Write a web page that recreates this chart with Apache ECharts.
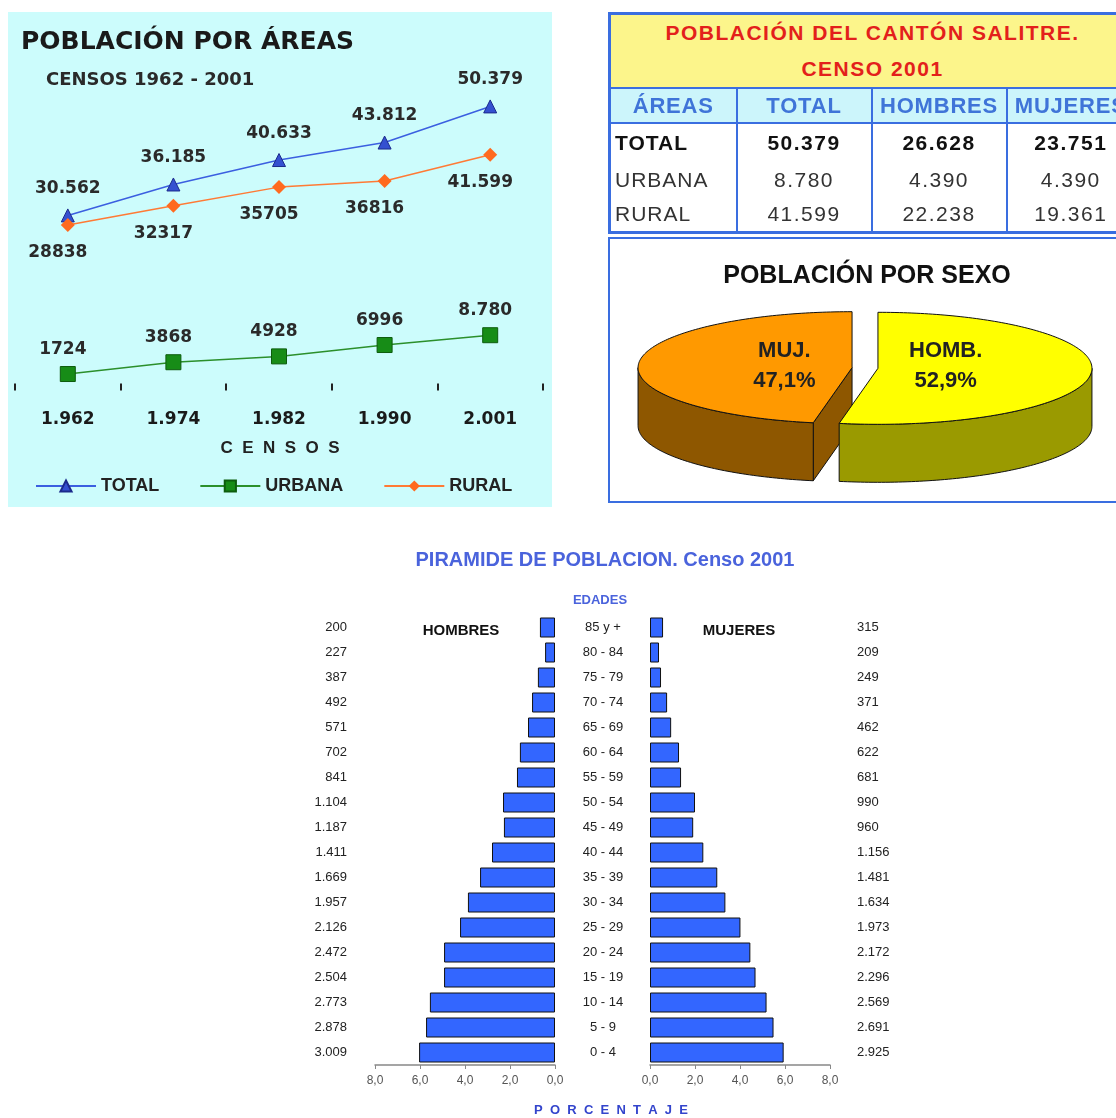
<!DOCTYPE html>
<html>
<head>
<meta charset="utf-8">
<script src="https://cdn.jsdelivr.net/npm/echarts@6.0.0/dist/echarts.min.js"></script>
<style>
html, body { margin: 0; padding: 0; width: 1116px; height: 1118px; overflow: hidden; background: #fff; }
#chart { position: absolute; left: 0; top: 0; width: 1116px; height: 1118px; }
#tabla {
  position: absolute; left: 608px; top: 12px;
  border-collapse: collapse; table-layout: fixed; width: 526px;
  border: 3px solid #3a6ee0;
  font-family: Arial, "Liberation Sans", sans-serif;
}
#tabla td { border-left: 2px solid #3a6ee0; border-right: 2px solid #3a6ee0; padding: 0; text-align: center; white-space: nowrap; overflow: hidden; }
#tabla .tt td { background: #fcf58b; color: #e3201b; font-weight: bold; font-size: 21px; letter-spacing: 1.5px; height: 70px; line-height: 36px; }
#tabla .hd td { background: #ccf5fb; color: #3f74d8; font-weight: bold; font-size: 22px; letter-spacing: 0.8px; height: 33px; border-top: 2px solid #3a6ee0; border-bottom: 2px solid #3a6ee0; }
#tabla .bd td { color: #333; font-size: 21px; letter-spacing: 1.5px; }
#tabla .bd td:first-child { text-align: left; padding-left: 4px; letter-spacing: 1px; }
#tabla .bd.b td { color: #111; font-weight: bold; }
</style>
</head>
<body>
<div id="chart"></div>
<table id="tabla"></table>
<script>
// población por áreas (censos)
const censusYears = ['1.962', '1.974', '1.982', '1.990', '2.001']
const totalValues = [30562, 36185, 40633, 43812, 50379]
const urbanValues = [1724, 3868, 4928, 6996, 8780]
const ruralValues = [28838, 32317, 35705, 36816, 41599]
const totalLabels = ['30.562', '36.185', '40.633', '43.812', '50.379']
const urbanLabels = ['1724', '3868', '4928', '6996', '8.780']
const ruralLabels = ['28838', '32317', '35705', '36816', '41.599']

// tabla censo 2001
const tableTitle = ['POBLACIÓN DEL CANTÓN SALITRE.', 'CENSO 2001']
const tableHeader = ['ÁREAS', 'TOTAL', 'HOMBRES', 'MUJERES']
const tableRows = [
  ['TOTAL', '50.379', '26.628', '23.751'],
  ['URBANA', '8.780', '4.390', '4.390'],
  ['RURAL', '41.599', '22.238', '19.361'],
]

// población por sexo
const pieNames = ['HOMB.', 'MUJ.']
const pieValues = [52.9, 47.1]

// pirámide
const ageGroups = ['85 y +', '80 - 84', '75 - 79', '70 - 74', '65 - 69', '60 - 64', '55 - 59', '50 - 54', '45 - 49',
  '40 - 44', '35 - 39', '30 - 34', '25 - 29', '20 - 24', '15 - 19', '10 - 14', '5 - 9', '0 - 4']
const maleCounts = ['200', '227', '387', '492', '571', '702', '841', '1.104', '1.187', '1.411', '1.669', '1.957',
  '2.126', '2.472', '2.504', '2.773', '2.878', '3.009']
const femaleCounts = ['315', '209', '249', '371', '462', '622', '681', '990', '960', '1.156', '1.481', '1.634',
  '1.973', '2.172', '2.296', '2.569', '2.691', '2.925']
const malePct = [0.67, 0.44, 0.76, 1.02, 1.2, 1.56, 1.69, 2.31, 2.27, 2.8, 3.33, 3.87, 4.22, 4.93, 4.93, 5.56, 5.73, 6.04]
const femalePct = [0.58, 0.4, 0.49, 0.76, 0.94, 1.29, 1.38, 2.0, 1.92, 2.37, 2.99, 3.35, 4.02, 4.46, 4.69, 5.18, 5.49, 5.94]

// --- table ---
const tbl = document.getElementById('tabla')
let html = '<colgroup><col style="width:127px"><col style="width:135px"><col style="width:135px"><col style="width:129px"></colgroup>'
html += '<tr class="tt"><td colspan="4">' + tableTitle.join('<br>') + '</td></tr>'
html += '<tr class="hd">' + tableHeader.map((h) => '<td>' + h + '</td>').join('') + '</tr>'
const rowHeights = [39, 36, 34]
tableRows.forEach((r, i) => {
  html += '<tr class="bd' + (i === 0 ? ' b' : '') + '" style="height:' + rowHeights[i] + 'px">' +
    r.map((c) => '<td>' + c + '</td>').join('') + '</tr>'
})
tbl.innerHTML = html

// --- 3d pie geometry ---
const PIE = { cx: 865, cy: 368, rx: 214, ry: 56, depth: 58, explode: 13 }
const pieColors = [
  { top: '#ffff00', side: '#9a9a00' },
  { top: '#ff9900', side: '#8e5700' },
]

function renderPie(params, api) {
  const total = pieValues.reduce((a, b) => a + b, 0)
  let start = -Math.PI / 2
  for (let k = 0; k < params.dataIndex; k++) start += pieValues[k] / total * Math.PI * 2
  const end = start + api.value(0) / total * Math.PI * 2
  const mid = (start + end) / 2
  const ox = PIE.cx + Math.cos(mid) * PIE.explode
  const oy = PIE.cy + Math.sin(mid) * PIE.explode * PIE.ry / PIE.rx
  const D = PIE.depth
  const pt = (a, dy) => [ox + PIE.rx * Math.cos(a), oy + PIE.ry * Math.sin(a) + (dy || 0)]
  const arc = (a0, a1, dy) => {
    const n = Math.max(2, Math.ceil(Math.abs(a1 - a0) / 0.02))
    const pts = []
    for (let i = 0; i <= n; i++) pts.push(pt(a0 + (a1 - a0) * i / n, dy))
    return pts
  }
  const col = pieColors[params.dataIndex]
  const line = { stroke: '#111', lineWidth: 1 }
  const children = []
  // cut faces facing the viewer
  const faces = []
  if (Math.cos(start) < -1e-6) faces.push(start)
  if (Math.cos(end) > 1e-6) faces.push(end)
  faces.forEach((a) => {
    children.push({
      type: 'polygon', z2: 1,
      shape: { points: [[ox, oy], pt(a), pt(a, D), [ox, oy + D]] },
      style: Object.assign({ fill: col.side }, line),
    })
  })
  // outer wall (front half only)
  const lo = Math.max(start, 0)
  const hi = Math.min(end, Math.PI)
  if (hi > lo) {
    children.push({
      type: 'polygon', z2: 2,
      shape: { points: arc(lo, hi, 0).concat(arc(hi, lo, D)) },
      style: Object.assign({ fill: col.side }, line),
    })
  }
  // top face
  children.push({
    type: 'polygon', z2: 3,
    shape: { points: [[ox, oy]].concat(arc(start, end, 0)) },
    style: Object.assign({ fill: col.top }, line),
  })
  children.push({
    type: 'text', z2: 4,
    style: {
      text: pieNames[params.dataIndex] + '\n' + String(api.value(0)).replace('.', ',') + '%',
      x: ox + Math.cos(mid) * 68, y: oy - 2,
      font: 'bold 22px Arial, "Liberation Sans", sans-serif',
      fill: '#222', lineHeight: 30,
      align: 'center', verticalAlign: 'middle',
      textAlign: 'center', textVerticalAlign: 'middle',
    },
  })
  return { type: 'group', children }
}

function txt(text, x, y, font, fill, align) {
  return {
    type: 'text', x: x, y: y, z: 5,
    style: {
      text, font, fill,
      align: align || 'left', verticalAlign: 'middle',
      textAlign: align || 'left', textVerticalAlign: 'middle',
    },
  }
}

const chart = echarts.init(document.getElementById('chart'), null, { renderer: 'canvas' })

const lineLabelFont = { fontFamily: '"DejaVu Sans", sans-serif', fontWeight: 'bold', fontSize: 17, color: '#2a2a2a' }
const pctFmt = (v) => v.toFixed(1).replace('.', ',')

chart.setOption({
  animation: false,
  graphic: [
    { type: 'rect', z: 0, shape: { x: 8, y: 12, width: 544, height: 495 }, style: { fill: '#ccfcfc' } },
    { type: 'rect', z: 0, shape: { x: 609, y: 238, width: 520, height: 264 }, style: { fill: '#fff', stroke: '#3a6ee0', lineWidth: 2 } },
    txt('POBLACIÓN POR ÁREAS', 21, 42, 'bold 25px "DejaVu Sans", sans-serif', '#1a1a1a'),
    txt('CENSOS 1962 - 2001', 46, 80, 'bold 18px "DejaVu Sans", sans-serif', '#2a2a2a'),
    txt('C  E  N  S  O  S', 280, 448, 'bold 17px Arial, "Liberation Sans", sans-serif', '#222', 'center'),
    txt('POBLACIÓN POR SEXO', 867, 276, 'bold 25px Arial, "Liberation Sans", sans-serif', '#111', 'center'),
    txt('PIRAMIDE DE POBLACION. Censo 2001', 605, 560, 'bold 20px Arial, "Liberation Sans", sans-serif', '#4a63dc', 'center'),
    txt('EDADES', 600, 600, 'bold 13px Arial, "Liberation Sans", sans-serif', '#4a63dc', 'center'),
    txt('HOMBRES', 461, 631, 'bold 15px Arial, "Liberation Sans", sans-serif', '#111', 'center'),
    txt('MUJERES', 739, 631, 'bold 15px Arial, "Liberation Sans", sans-serif', '#111', 'center'),
    txt('P  O  R  C  E  N  T  A  J  E', 611, 1110, 'bold 13px Arial, "Liberation Sans", sans-serif', '#3344cc', 'center'),
  ],
  legend: {
    data: ['TOTAL', 'URBANA', 'RURAL'],
    left: 30,
    top: 472,
    itemWidth: 60,
    itemHeight: 14,
    itemGap: 40,
    textStyle: { fontFamily: 'Arial, "Liberation Sans", sans-serif', fontWeight: 'bold', fontSize: 18, color: '#222' },
  },
  grid: [
    { left: 15, top: 81, width: 528, height: 302.5 },
    { left: 375, top: 615, width: 180, height: 450 },
    { left: 650, top: 615, width: 180, height: 450 },
  ],
  xAxis: [
    {
      gridIndex: 0, type: 'category', data: censusYears,
      axisLine: { show: false },
      axisTick: { show: true, length: 7, lineStyle: { color: '#222', width: 2 } },
      axisLabel: { margin: 28, fontFamily: '"DejaVu Sans", sans-serif', fontWeight: 'bold', fontSize: 17, color: '#1a1a1a' },
    },
    {
      gridIndex: 1, type: 'value', inverse: true, min: 0, max: 8, interval: 2,
      axisLine: { show: true, lineStyle: { color: '#888', width: 1.5 } },
      axisTick: { show: true, length: 4, lineStyle: { color: '#888' } },
      axisLabel: { formatter: pctFmt, fontSize: 12, color: '#555', margin: 10 },
      splitLine: { show: false },
    },
    {
      gridIndex: 2, type: 'value', min: 0, max: 8, interval: 2,
      axisLine: { show: true, lineStyle: { color: '#888', width: 1.5 } },
      axisTick: { show: true, length: 4, lineStyle: { color: '#888' } },
      axisLabel: { formatter: pctFmt, fontSize: 12, color: '#555', margin: 10 },
      splitLine: { show: false },
    },
  ],
  yAxis: [
    { gridIndex: 0, type: 'value', min: 0, max: 55000, show: false },
    {
      gridIndex: 1, type: 'category', inverse: true, data: ageGroups, position: 'left',
      axisLine: { show: false, onZero: false }, axisTick: { show: false },
      axisLabel: { formatter: (v, i) => maleCounts[i], margin: 28, align: 'right', fontSize: 13, color: '#222' },
    },
    {
      gridIndex: 2, type: 'category', inverse: true, data: ageGroups, position: 'left',
      axisLine: { show: false, onZero: false }, axisTick: { show: false },
      axisLabel: { margin: 47, align: 'center', fontSize: 13, color: '#222' },
    },
    {
      gridIndex: 2, type: 'category', inverse: true, data: ageGroups, position: 'right',
      axisLine: { show: false, onZero: false }, axisTick: { show: false },
      axisLabel: { formatter: (v, i) => femaleCounts[i], margin: 27, align: 'left', fontSize: 13, color: '#222' },
    },
  ],
  series: [
    {
      name: 'TOTAL', type: 'line', xAxisIndex: 0, yAxisIndex: 0,
      data: totalValues,
      symbol: 'triangle', symbolSize: 13,
      lineStyle: { color: '#3b5fe0', width: 1.5 },
      itemStyle: { color: '#3450d0', borderColor: '#1b2a8c', borderWidth: 1 },
      label: Object.assign({ show: true, position: 'top', distance: 11, formatter: (p) => totalLabels[p.dataIndex] }, lineLabelFont),
    },
    {
      name: 'URBANA', type: 'line', xAxisIndex: 0, yAxisIndex: 0,
      data: urbanValues,
      symbol: 'rect', symbolSize: 15,
      lineStyle: { color: '#2b8f2b', width: 1.5 },
      itemStyle: { color: '#178c17', borderColor: '#0d5c0d', borderWidth: 1 },
      label: Object.assign({ show: true, position: 'top', distance: 8, offset: [-5, 0], formatter: (p) => urbanLabels[p.dataIndex] }, lineLabelFont),
    },
    {
      name: 'RURAL', type: 'line', xAxisIndex: 0, yAxisIndex: 0,
      data: ruralValues,
      symbol: 'diamond', symbolSize: 14,
      lineStyle: { color: '#ff7a35', width: 1.5 },
      itemStyle: { color: '#ff6a1f' },
      label: Object.assign({ show: true, position: 'bottom', distance: 8, offset: [-10, 4], formatter: (p) => ruralLabels[p.dataIndex] }, lineLabelFont),
    },
    {
      name: 'HOMBRES', type: 'bar', xAxisIndex: 1, yAxisIndex: 1,
      data: malePct, barWidth: 20,
      itemStyle: { color: '#3366ff', borderColor: '#111', borderWidth: 1 },
    },
    {
      name: 'MUJERES', type: 'bar', xAxisIndex: 2, yAxisIndex: 2,
      data: femalePct, barWidth: 20,
      itemStyle: { color: '#3366ff', borderColor: '#111', borderWidth: 1 },
    },
    {
      name: 'SEXO', type: 'custom', coordinateSystem: 'none', silent: true,
      data: pieValues.map((v, i) => ({ name: pieNames[i], value: v })),
      renderItem: renderPie,
    },
  ],
})
</script>
</body>
</html>
